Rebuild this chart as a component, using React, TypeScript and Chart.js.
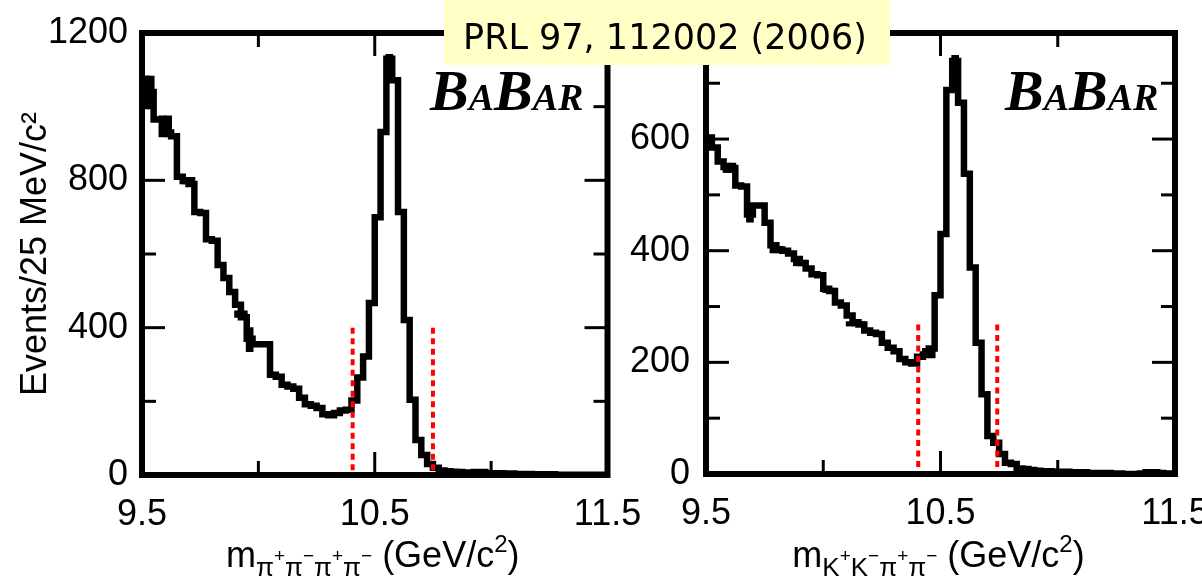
import React, { useEffect, useRef } from 'react';
import { Chart, registerables } from 'chart.js';
Chart.register(...registerables);

// ---- binning (25 MeV bins from 9.5 to 11.5 GeV) ----
const BIN_START = 9.5;
const BIN_WIDTH = 0.025;
const X_MIN = 9.5;
const X_MAX = 11.5;

// ---- left panel: m(pi+ pi- pi+ pi-) ----
const leftCounts = [
  1075, 1040, 965, 965, 930, 920, 810, 798, 790, 714,
  711, 640, 636, 570, 535, 497, 462, 428, 370, 355,
  355, 355, 272, 267, 245, 240, 234, 210, 192, 188,
  182, 165, 162, 168, 175, 177, 202, 265, 322, 467,
  700, 931, 1130, 1072, 714, 421, 204, 95, 54, 30,
  20, 12, 10, 9, 8, 7, 7, 8, 8, 5,
  5, 5, 4, 4, 3, 3, 3, 2, 2, 2,
  2, 1, 1, 1, 1, 1, 1, 0, 1, 0,
];
const leftBlockBins = [0, 1, 3, 4, 7, 8, 16, 17, 18, 42];
const leftBlockLo = [994, 994, 918, 918, 790, 790, 428, 428, 335, 1080];
const leftBlockHi = [1083, 1083, 975, 975, 808, 808, 446, 446, 400, 1142];
const leftCutMasses = [10.405, 10.75];
const leftCutHeight = 400;
const leftYLabeled = [0, 400, 800, 1200];
const leftYMajor = [400, 800];
const leftYMinor = [200, 600, 1000];

// ---- right panel: m(K+ K- pi+ pi-) ----
const rightCounts = [
  603, 585, 560, 550, 548, 517, 515, 465, 481, 481,
  450, 410, 402, 400, 395, 385, 378, 368, 358, 356,
  332, 328, 307, 302, 284, 272, 268, 257, 253, 251,
  235, 226, 220, 206, 200, 198, 210, 214, 225, 320,
  430, 688, 740, 665, 538, 370, 235, 143, 68, 56,
  36, 20, 18, 10, 9, 7, 6, 5, 5, 4,
  4, 4, 3, 3, 3, 2, 2, 2, 2, 1,
  1, 0, 0, 0, 1, 3, 3, 2, 1, 1,
];
const rightBlockBins = [3, 4, 7, 11, 12, 15, 16, 20, 21, 24, 25, 26, 37, 38, 42];
const rightBlockLo = [540, 540, 451, 396, 396, 373, 373, 325, 325, 265, 265, 265, 208, 208, 690];
const rightBlockHi = [557, 557, 481, 408, 408, 383, 383, 333, 333, 273, 273, 273, 225, 225, 750];
const rightCutMasses = [10.405, 10.742];
const rightCutHeight = 268;
const rightYLabeled = [0, 200, 400, 600];
const rightYMajor = [200, 400, 600];
const rightYMinor = [100, 300, 500, 700];

// ---- x ticks (shared) ----
const xLabeled = [9.5, 10.5, 11.5];
const xMajor = [10.5];
const xMinor = [10.0, 11.0];

const FONT = 'Liberation Sans';

type Run = { t: string; font: string; dy?: number };

function drawRuns(ctx: CanvasRenderingContext2D, runs: Run[], x: number, baseline: number, center: boolean) {
  const widths = runs.map((r) => {
    ctx.font = r.font;
    return ctx.measureText(r.t).width;
  });
  const total = widths.reduce((a, b) => a + b, 0);
  let xx = center ? x - total / 2 : x;
  runs.forEach((r, i) => {
    ctx.font = r.font;
    ctx.fillText(r.t, xx, baseline + (r.dy || 0));
    xx += widths[i];
  });
}

const MAIN = `36px "${FONT}"`;
const SUB = `26px "${FONT}"`;
const SUBSUP = `19px "${FONT}"`;
const SUP = `24px "${FONT}"`;

function massTitle(parts: string[]): Run[] {
  const runs: Run[] = [{ t: 'm', font: MAIN }];
  for (let i = 0; i < parts.length; i += 2) {
    runs.push({ t: parts[i], font: SUB, dy: 9 });
    runs.push({ t: parts[i + 1], font: SUBSUP, dy: -5 });
  }
  runs.push({ t: ' (GeV/c', font: MAIN });
  runs.push({ t: '2', font: SUP, dy: -15 });
  runs.push({ t: ')', font: MAIN });
  return runs;
}

const BIG = `italic bold 58px "Liberation Serif"`;
const SMALL = `italic bold 38px "Liberation Serif"`;
const logoRuns: Run[] = [
  { t: 'B', font: BIG },
  { t: 'A', font: SMALL },
  { t: 'B', font: BIG },
  { t: 'A', font: SMALL },
  { t: 'R', font: SMALL },
];

type PanelCfg = {
  id: string;
  counts: number[];
  blockBins: number[];
  blockLo: number[];
  blockHi: number[];
  cuts: number[];
  cutHeight: number;
  yMax: number;
  yLabeled: number[];
  yMajor: number[];
  yMinor: number[];
  pad: { left: number; right: number; top: number; bottom: number };
  yAxisWidth: number;
  xAxisHeight: number;
  yTickPad: number;
  yTitle: boolean;
  title: Run[];
  logoX: number;
  box: boolean;
};

function makePlugin(cfg: PanelCfg) {
  return {
    id: 'frame_' + cfg.id,
    afterDatasetsDraw(chart: any) {
      const { ctx, chartArea: a, scales } = chart;
      const xs = scales.x;
      const ys = scales.y;
      ctx.save();
      ctx.strokeStyle = '#000';
      ctx.lineCap = 'butt';
      ctx.lineWidth = 3;
      const seg = (x1: number, y1: number, x2: number, y2: number) => {
        ctx.beginPath();
        ctx.moveTo(x1, y1);
        ctx.lineTo(x2, y2);
        ctx.stroke();
      };
      const xSets: [number[], number][] = [[xMajor, 23], [xMinor, 14]];
      xSets.forEach(([vals, len]) => {
        vals.forEach((v) => {
          const p = xs.getPixelForValue(v);
          seg(p, a.bottom, p, a.bottom - len);
          seg(p, a.top, p, a.top + len);
        });
      });
      const ySets: [number[], number][] = [[cfg.yMajor, 23], [cfg.yMinor, 14]];
      ySets.forEach(([vals, len]) => {
        vals.forEach((v) => {
          const p = ys.getPixelForValue(v);
          seg(a.left, p, a.left + len, p);
          seg(a.right, p, a.right - len, p);
        });
      });
      ctx.lineWidth = 6;
      ctx.lineJoin = 'miter';
      ctx.strokeRect(a.left, a.top, a.right - a.left, a.bottom - a.top);
      ctx.restore();
    },
    afterDraw(chart: any) {
      const { ctx, chartArea: a } = chart;
      ctx.save();
      ctx.fillStyle = '#000';
      ctx.textAlign = 'left';
      ctx.textBaseline = 'alphabetic';
      drawRuns(ctx, logoRuns, cfg.logoX, 110, false);
      drawRuns(ctx, cfg.title, (a.left + a.right) / 2 - 2, 567, true);
      if (cfg.box) {
        ctx.fillStyle = '#ffffc6';
        ctx.fillRect(444, 0, 446, 65);
        ctx.fillStyle = '#000';
        ctx.font = `35px "DejaVu Sans"`;
        ctx.textAlign = 'center';
        ctx.fillText('PRL 97, 112002 (2006)', 665, 49);
      }
      ctx.restore();
    },
  };
}

function makeConfig(cfg: PanelCfg): any {
  const hist = cfg.counts.map((v, i) => ({ x: BIN_START + i * BIN_WIDTH, y: v }));
  hist.push({ x: BIN_START + cfg.counts.length * BIN_WIDTH, y: cfg.counts[cfg.counts.length - 1] });
  const blocks = cfg.blockBins.map((b, k) => ({
    x: BIN_START + (b + 0.5) * BIN_WIDTH,
    y: [cfg.blockLo[k], cfg.blockHi[k]],
  }));
  const cutSets = cfg.cuts.map((m) => ({
    type: 'line',
    data: [
      { x: m, y: cfg.cutHeight },
      { x: m, y: 0 },
    ],
    borderColor: '#ff0000',
    borderWidth: 4,
    borderDash: [6, 4.5],
    pointRadius: 0,
    fill: false,
    order: 0,
  }));
  const tickFont = { family: FONT, size: 36 };
  return {
    type: 'line',
    data: {
      datasets: [
        ...cutSets,
        {
          type: 'line',
          data: hist,
          stepped: 'before',
          borderColor: '#000',
          borderWidth: 6.5,
          borderJoinStyle: 'miter',
          pointRadius: 0,
          fill: false,
          order: 1,
        },
        {
          type: 'bar',
          data: blocks,
          backgroundColor: '#000',
          borderWidth: 0,
          barThickness: 7,
          grouped: false,
          order: 2,
        },
      ],
    },
    options: {
      animation: false,
      responsive: false,
      devicePixelRatio: 1,
      events: [],
      layout: { padding: cfg.pad },
      plugins: { legend: { display: false }, tooltip: { enabled: false } },
      scales: {
        x: {
          type: 'linear',
          min: X_MIN,
          max: X_MAX,
          offset: false,
          grid: { display: false, drawTicks: false },
          border: { display: false },
          afterBuildTicks: (s: any) => {
            s.ticks = xLabeled.map((v) => ({ value: v }));
          },
          ticks: {
            autoSkip: false,
            maxRotation: 0,
            minRotation: 0,
            padding: 18,
            color: '#000',
            font: tickFont,
            callback: (v: number) => String(v),
          },
          afterFit: (s: any) => {
            s.height = cfg.xAxisHeight;
            s.paddingLeft = 0;
            s.paddingRight = 0;
          },
        },
        y: {
          type: 'linear',
          min: 0,
          max: cfg.yMax,
          grid: { display: false, drawTicks: false },
          border: { display: false },
          afterBuildTicks: (s: any) => {
            s.ticks = cfg.yLabeled.map((v) => ({ value: v }));
          },
          ticks: {
            autoSkip: false,
            padding: cfg.yTickPad,
            color: '#000',
            font: tickFont,
            callback: (v: number) => String(v),
          },
          title: cfg.yTitle
            ? {
                display: true,
                text: 'Events/25 MeV/c²',
                color: '#000',
                font: { family: FONT, size: 36 },
                padding: { top: 14, bottom: 0 },
              }
            : { display: false },
          afterFit: (s: any) => {
            s.width = cfg.yAxisWidth;
            s.paddingTop = 0;
            s.paddingBottom = 0;
          },
        },
      },
    },
    plugins: [makePlugin(cfg)],
  };
}

const leftCfg: PanelCfg = {
  id: 'left',
  counts: leftCounts,
  blockBins: leftBlockBins,
  blockLo: leftBlockLo,
  blockHi: leftBlockHi,
  cuts: leftCutMasses,
  cutHeight: leftCutHeight,
  yMax: 1200,
  yLabeled: leftYLabeled,
  yMajor: leftYMajor,
  yMinor: leftYMinor,
  pad: { left: 0, right: 1202 - 607.5, top: 33, bottom: 0 },
  yAxisWidth: 142,
  xAxisHeight: 101,
  yTickPad: 14,
  yTitle: true,
  title: massTitle(['π', '+', 'π', '−', 'π', '+', 'π', '−']),
  logoX: 430,
  box: false,
};

const rightCfg: PanelCfg = {
  id: 'right',
  counts: rightCounts,
  blockBins: rightBlockBins,
  blockLo: rightBlockLo,
  blockHi: rightBlockHi,
  cuts: rightCutMasses,
  cutHeight: rightCutHeight,
  yMax: 790,
  yLabeled: rightYLabeled,
  yMajor: rightYMajor,
  yMinor: rightYMinor,
  pad: { left: 600, right: 1202 - 1175, top: 33, bottom: 0 },
  yAxisWidth: 106,
  xAxisHeight: 102,
  yTickPad: 16,
  yTitle: false,
  title: massTitle(['K', '+', 'K', '−', 'π', '+', 'π', '−']),
  logoX: 1005,
  box: true,
};

export default function App() {
  const leftRef = useRef<HTMLCanvasElement>(null);
  const rightRef = useRef<HTMLCanvasElement>(null);
  useEffect(() => {
    const c1 = new Chart(leftRef.current as HTMLCanvasElement, makeConfig(leftCfg));
    const c2 = new Chart(rightRef.current as HTMLCanvasElement, makeConfig(rightCfg));
    return () => {
      c1.destroy();
      c2.destroy();
    };
  }, []);
  const cs: React.CSSProperties = { position: 'absolute', left: 0, top: 0 };
  return (
    <div style={{ position: 'absolute', left: 0, top: 0, width: 1202, height: 576, background: '#fff', overflow: 'hidden' }}>
      <canvas ref={leftRef} width={1202} height={576} style={cs} />
      <canvas ref={rightRef} width={1202} height={576} style={cs} />
    </div>
  );
}
